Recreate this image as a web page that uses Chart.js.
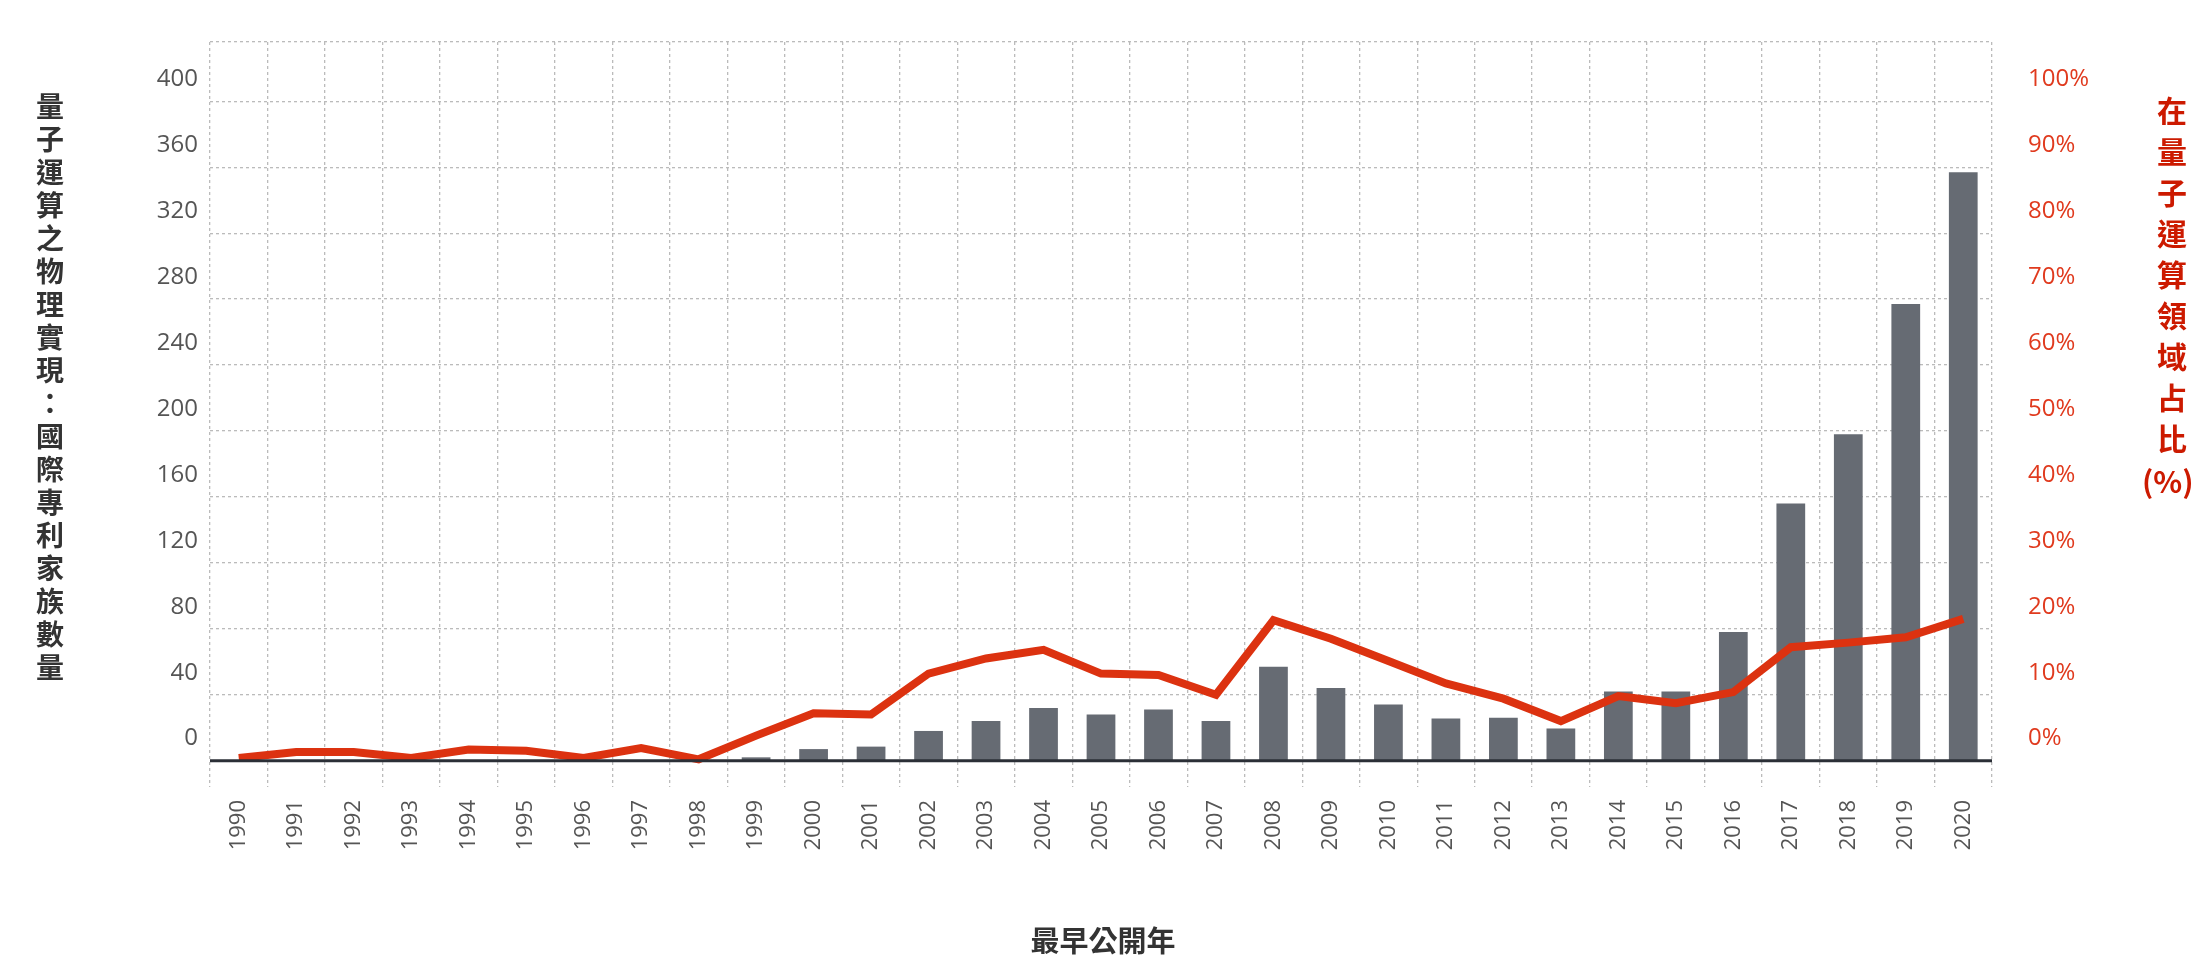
<!DOCTYPE html>
<html><head><meta charset="utf-8">
<script src="https://cdn.jsdelivr.net/npm/chart.js@4"></script>
<style>
body{margin:0;background:#fff;font-family:"Noto Sans CJK TC","Noto Sans",sans-serif}
#wrap{position:relative;width:2212px;height:976px}
.vt{position:absolute;writing-mode:vertical-rl;text-orientation:upright;font-weight:bold}
</style></head><body>
<div id="wrap">
<canvas id="c" width="2212" height="976"></canvas>
<div class="vt" style="left:30px;top:92px;font-size:28px;color:#333;letter-spacing:5px">量子運算之物理實現：國際專利家族數量</div>
<div class="vt" style="left:2150px;top:96px;font-size:30px;color:#cc1a00;letter-spacing:11px">在量子運算領域占比</div>
<div style="position:absolute;left:2142px;top:458px;font-size:30px;color:#cc1a00;font-weight:bold">(%)</div>
<div style="position:absolute;left:0;width:2212px;text-align:center;top:918px;font-size:29px;font-weight:bold;color:#333;transform:translateX(-3px)">最早公開年</div>
</div>
<script>
const years = ["1990","1991","1992","1993","1994","1995","1996","1997","1998","1999","2000","2001","2002","2003","2004","2005","2006","2007","2008","2009","2010","2011","2012","2013","2014","2015","2016","2017","2018","2019","2020"];
const families = [0,0,0,0,0,0,0,0,0,2,7,8.5,18,24,32,28,31,24,57,44,34,25.5,26,19.5,42,42,78,156,198,277,357];
const share = [0.4,1.3,1.3,0.4,1.7,1.5,0.4,1.9,0.2,3.8,7.2,7,13.2,15.5,16.8,13.2,13,10,21.3,18.5,15.1,11.7,9.4,6,9.8,8.7,10.4,17.2,17.9,18.7,21.5];
const leftTicks = [0,40,80,120,160,200,240,280,320,360,400];
const rightTicks = [0,10,20,30,40,50,60,70,80,90,100];

const labelsPlugin = {
  id:"labels",
  afterDraw(ch){
    const c = ch.ctx, y = ch.scales.y, y1 = ch.scales.y1, x = ch.scales.x, a = ch.chartArea;
    c.save();
    // baseline
    c.strokeStyle="#2b2f36"; c.lineWidth=3;
    c.beginPath(); c.moveTo(a.left,y.getPixelForValue(0)); c.lineTo(a.right,y.getPixelForValue(0)); c.stroke();
    c.font="24px 'Open Sans','Noto Sans',sans-serif";
    c.fillStyle="#555"; c.textAlign="right"; c.textBaseline="middle";
    leftTicks.forEach(v=>c.fillText(String(v),198,y.getPixelForValue(v)-22));
    c.fillStyle="#e03a1e"; c.textAlign="left";
    rightTicks.forEach(v=>c.fillText(v+"%",2028,y1.getPixelForValue(v)-22));
    c.fillStyle="#555"; c.font="22px 'Open Sans','Noto Sans',sans-serif";
    years.forEach((t,i)=>{
      c.save(); c.translate(x.getPixelForValue(i),800); c.rotate(-Math.PI/2);
      c.textAlign="right"; c.textBaseline="middle"; c.fillText(t,0,0); c.restore();
    });
    c.restore();
  }
};

new Chart(document.getElementById("c"),{
  data:{labels:years,datasets:[
    {type:"line",data:share,yAxisID:"y1",borderColor:"#dc3210",borderWidth:8,pointRadius:0,tension:0,order:0},
    {type:"bar",data:families,yAxisID:"y",backgroundColor:"#666b73",barPercentage:0.5,categoryPercentage:1,order:1}
  ]},
  options:{
    responsive:false,animation:false,
    layout:{padding:{left:210,right:212,top:42,bottom:189}},
    plugins:{legend:{display:false},tooltip:{enabled:false}},
    scales:{
      x:{ticks:{display:false},border:{display:false},
         grid:{offset:true,color:"#bbb",lineWidth:1.3,tickLength:0},
         border:{dash:[3,3],display:false}},
      y:{min:-16,max:436,position:"left",ticks:{display:false},
         afterBuildTicks(s){s.ticks=[...leftTicks,436].map(v=>({value:v}));},
         grid:{color:"#bbb",lineWidth:1.3,tickLength:0},border:{display:false,dash:[3,3]}},
      y1:{min:-4,max:109,position:"right",ticks:{display:false},grid:{display:false},border:{display:false}}
    }
  },
  plugins:[labelsPlugin]
});
</script>
</body></html>
